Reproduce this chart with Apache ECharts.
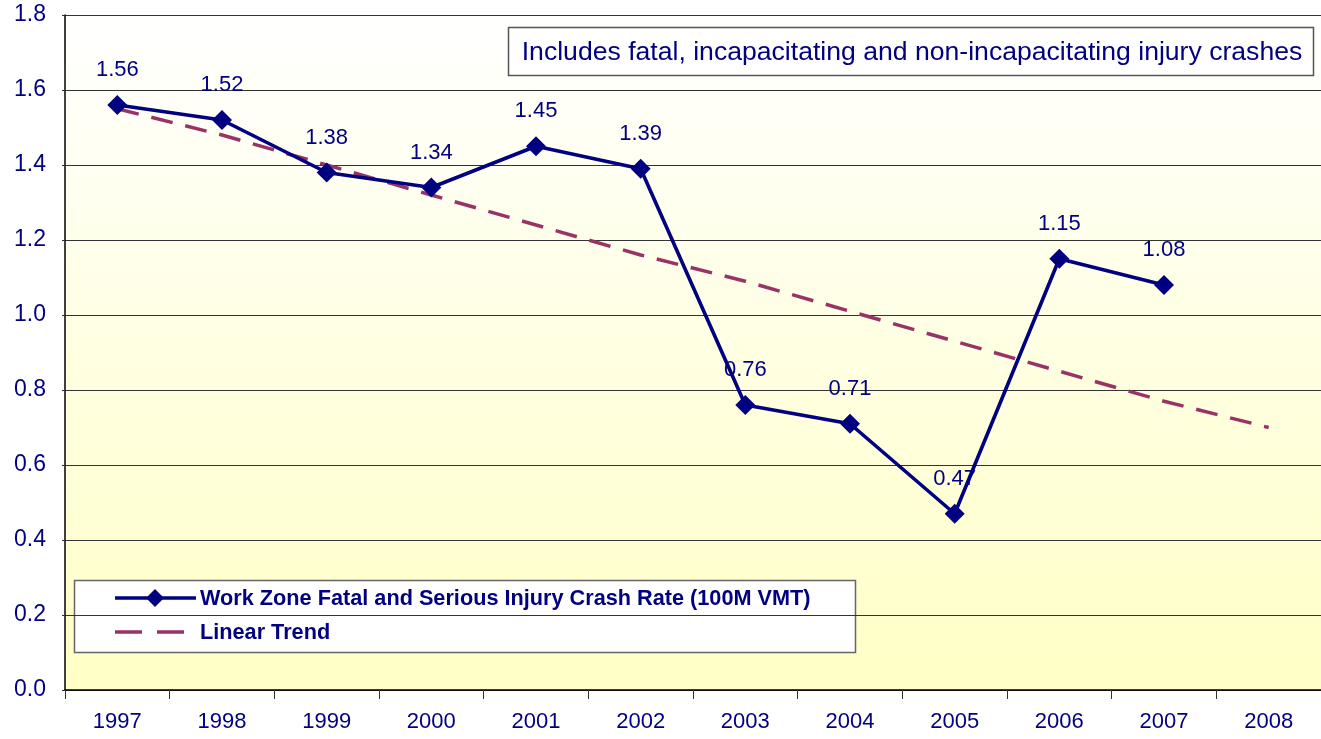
<!DOCTYPE html>
<html>
<head>
<meta charset="utf-8">
<title>Work Zone Crash Rate</title>
<script src="https://cdn.jsdelivr.net/npm/echarts@6/dist/echarts.min.js"></script>
<style>
  html, body { margin: 0; padding: 0; background: #ffffff; }
  #chart { width: 1321px; height: 739px; }
</style>
</head>
<body>
<div id="chart"></div>
<script>
// Years on the category axis
var years = ['1997', '1998', '1999', '2000', '2001', '2002', '2003', '2004', '2005', '2006', '2007', '2008'];
// Work zone fatal and serious injury crash rate per 100M VMT
var crashRate = [1.56, 1.52, 1.38, 1.34, 1.45, 1.39, 0.76, 0.71, 0.47, 1.15, 1.08, null];
// Linear trend line values
var trendValues = [1.55, 1.48, 1.40, 1.32, 1.24, 1.16, 1.09, 1.01, 0.93, 0.85, 0.77, 0.70];
// Value axis ticks
var yTicks = [0, 0.2, 0.4, 0.6, 0.8, 1.0, 1.2, 1.4, 1.6, 1.8];

var rateName = 'Work Zone Fatal and Serious Injury Crash Rate (100M VMT)';
var trendName = 'Linear Trend';
var noteText = 'Includes fatal, incapacitating and non-incapacitating injury crashes';
var navy = '#000080';
var plum = '#993366';
var font = '"Liberation Sans", Arial, sans-serif';
var diamond = 'path://M0,-1L1,0L0,1L-1,0Z';

var chart = echarts.init(document.getElementById('chart'), null, { renderer: 'canvas' });

// Key box with a swatch and a label per series
function keyEntries() {
  var items = [
    {
      type: 'rect',
      shape: { x: 74.5, y: 580.5, width: 781, height: 72 },
      style: { fill: '#ffffff', stroke: '#666666', lineWidth: 1.5 }
    },
    {
      type: 'line',
      shape: { x1: 115, y1: 598, x2: 196, y2: 598 },
      style: { stroke: navy, lineWidth: 3.5 }
    },
    {
      type: 'polygon',
      shape: { points: [[155, 589], [164, 598], [155, 607], [146, 598]] },
      style: { fill: navy }
    },
    {
      type: 'text', x: 200, y: 599,
      style: { text: rateName, fill: navy, font: 'bold 21.7px ' + font, verticalAlign: 'middle' }
    },
    {
      type: 'line',
      shape: { x1: 115, y1: 632, x2: 196, y2: 632 },
      style: { stroke: plum, lineWidth: 3.5, lineDash: [27, 15] }
    },
    {
      type: 'text', x: 200, y: 633,
      style: { text: trendName, fill: navy, font: 'bold 21.7px ' + font, verticalAlign: 'middle' }
    }
  ];
  return { type: 'group', z: 100, children: items };
}

chart.setOption({
  animation: false,
  textStyle: { fontFamily: font },
  grid: {
    left: 65, right: -8, top: 15, bottom: 49,
    show: true,
    borderWidth: 0,
    backgroundColor: new echarts.graphic.LinearGradient(0, 0, 0, 1, [
      { offset: 0, color: '#ffffff' },
      { offset: 1, color: '#ffffc6' }
    ])
  },
  xAxis: {
    type: 'category',
    data: years,
    boundaryGap: true,
    axisLine: { lineStyle: { color: '#000000', width: 1.5 } },
    axisTick: { show: true, inside: false, length: 9, lineStyle: { color: '#333333' } },
    axisLabel: { color: navy, fontSize: 22, margin: 21, fontFamily: font },
    splitLine: { show: false }
  },
  yAxis: {
    type: 'value',
    min: yTicks[0],
    max: yTicks[yTicks.length - 1],
    interval: 0.2,
    axisLine: { show: true, lineStyle: { color: '#000000', width: 1.5 } },
    axisTick: { show: true, length: 3, lineStyle: { color: '#333333' } },
    axisLabel: {
      color: navy, fontSize: 23, margin: 19, fontFamily: font,
      formatter: function (v) { return v.toFixed(1); }
    },
    splitLine: { show: true, lineStyle: { color: '#333333', width: 1 } }
  },
  graphic: [
    keyEntries(),
    {
      type: 'group',
      z: 100,
      children: [
        {
          type: 'rect',
          shape: { x: 508.5, y: 27.5, width: 805, height: 48 },
          style: { fill: '#ffffff', stroke: '#555555', lineWidth: 1.5 }
        },
        {
          type: 'text',
          x: 912, y: 53,
          style: {
            text: noteText,
            fill: navy, font: '26.6px ' + font,
            align: 'center', verticalAlign: 'middle'
          }
        }
      ]
    }
  ],
  series: [
    {
      name: trendName,
      type: 'line',
      data: trendValues,
      symbol: 'none',
      z: 2,
      lineStyle: { color: plum, width: 3.5, type: [22, 13] },
      itemStyle: { color: plum },
      emphasis: { disabled: true }
    },
    {
      name: rateName,
      type: 'line',
      data: crashRate,
      symbol: diamond,
      symbolSize: 20,
      z: 3,
      lineStyle: { color: navy, width: 3.6 },
      itemStyle: { color: navy },
      label: {
        show: true,
        position: 'top',
        distance: 14,
        color: navy,
        fontSize: 22,
        fontFamily: font,
        formatter: function (p) { return p.value.toFixed(2); }
      },
      emphasis: { disabled: true }
    }
  ]
});
</script>
</body>
</html>
